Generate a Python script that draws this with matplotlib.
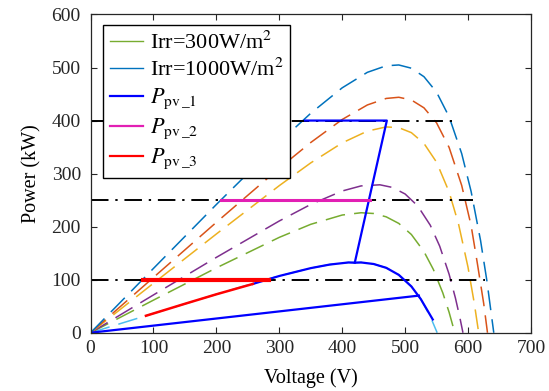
import matplotlib
matplotlib.use("Agg")
import matplotlib.pyplot as plt
from matplotlib.lines import Line2D

plt.rcParams["font.family"] = ["Liberation Serif", "DejaVu Serif"]
plt.rcParams["mathtext.fontset"] = "stix"

# P-V curves (V in volts, P in kW)
curve_colors = ["#4DBEEE", "#77AC30", "#7E2F8E", "#EDB120", "#D95319", "#0072BD"]

v_irr200 = [0, 100, 200, 260, 300, 350, 380, 410, 430, 450, 470, 490, 510, 525, 540, 551]
p_irr200 = [0, 36.4, 72.5, 93.6, 107.0, 121.8, 128.5, 132.5, 132.5, 129.6, 122.4, 109.1, 87.3, 63.4, 30.8, 0]

v_irr300 = [0, 100, 200, 300, 350, 400, 430, 450, 470, 490, 510, 530, 545, 560, 570, 579]
p_irr300 = [0, 61.5, 122.3, 179.8, 204.4, 221.9, 226.2, 224.8, 218.5, 206.1, 185.2, 153.0, 119.2, 75.0, 38.5, 0]

v_irr400 = [0, 100, 200, 300, 350, 400, 430, 460, 480, 500, 520, 540, 555, 570, 580, 587, 592]
p_irr400 = [0, 71.3, 142.1, 210.7, 241.9, 267.2, 276.8, 278.9, 273.9, 261.6, 239.2, 202.8, 163.3, 110.3, 65.6, 29.1, 0]

v_irr600 = [0, 100, 200, 300, 350, 400, 440, 470, 490, 510, 530, 550, 570, 585, 600, 610, 617]
p_irr600 = [0, 93.3, 186.2, 277.3, 320.2, 357.9, 380.1, 388.0, 386.6, 377.2, 356.9, 321.6, 265.4, 204.9, 123.8, 55.7, 0]

v_irr800 = [0, 100, 200, 300, 350, 400, 440, 470, 490, 510, 530, 550, 570, 590, 605, 615, 625, 631]
p_irr800 = [0, 104.3, 208.2, 310.2, 358.6, 402.0, 429.4, 441.7, 443.9, 438.8, 424.0, 395.8, 349.3, 277.7, 201.9, 130.0, 55.0, 0]

v_irr1000 = [0, 100, 200, 300, 350, 400, 440, 470, 490, 510, 530, 550, 570, 590, 605, 620, 630, 641]
p_irr1000 = [0, 121.3, 241.8, 359.1, 413.7, 461.7, 490.9, 503.3, 504.8, 498.7, 482.7, 453.6, 407.1, 337.7, 266.2, 173.8, 98.3, 0]

curves_v = [v_irr200, v_irr300, v_irr400, v_irr600, v_irr800, v_irr1000]
curves_p = [p_irr200, p_irr300, p_irr400, p_irr600, p_irr800, p_irr1000]

# power reference levels (dash-dot) and where they stop
ref_levels = [400, 250, 100]
ref_ends = [574, 608, 627]

# operating trajectories
ppv1_ramp_v = [0, 522]
ppv1_ramp_p = [0, 70]
ppv1_curve_v = [544, 525, 510, 490, 470, 450, 430, 420, 410, 380, 350, 300, 258]
ppv1_curve_p = [25, 63.4, 87.3, 109.1, 122.4, 129.6, 132.5, 132.0, 132.5, 128.5, 121.8, 107.0, 92]
ppv1_step_v = [420, 471, 341]
ppv1_step_p = [132, 400, 400]

ppv2_v = [208, 444]
ppv2_p = [250, 250]

ppv3_slope_v = [88, 150, 200, 258]
ppv3_slope_p = [32, 54.6, 72.5, 92]
ppv3_flat_v = [83, 283]
ppv3_flat_p = [100, 100]

fig = plt.figure(figsize=(5.49, 3.91), dpi=100)
ax = fig.add_axes([0.165, 0.149, 0.802, 0.814])

for v, p, c in zip(curves_v, curves_p, curve_colors):
    ax.plot(v, p, color=c, lw=1.1, dashes=(13, 6))

for lvl, end in zip(ref_levels, ref_ends):
    ax.plot([0, end], [lvl, lvl], color="black", lw=1.4, dashes=(9, 3.5, 1.2, 3.5))

ax.plot(ppv1_ramp_v, ppv1_ramp_p, color="blue", lw=1.6)
ax.plot(ppv1_curve_v, ppv1_curve_p, color="blue", lw=1.6)
ax.plot(ppv1_step_v, ppv1_step_p, color="blue", lw=1.6)
ax.plot(ppv2_v, ppv2_p, color="#E21FB4", lw=2.2)
ax.plot(ppv3_slope_v, ppv3_slope_p, color="red", lw=1.8)
ax.plot(ppv3_flat_v, ppv3_flat_p, color="red", lw=3.0)

ax.set_xlim(0, 700)
ax.set_ylim(0, 600)
ax.set_xticks(range(0, 701, 100))
ax.set_yticks(range(0, 601, 100))
ax.tick_params(direction="in", top=True, right=True, length=4, width=0.8,
               labelsize=14, colors="#262626")
ax.tick_params(axis="x", pad=5)
ax.tick_params(axis="y", pad=7)
for s in ax.spines.values():
    s.set_color("#262626")
    s.set_linewidth(0.9)
ax.set_xlabel("Voltage (V)", fontsize=14.5, labelpad=8)
ax.set_ylabel("Power (kW)", fontsize=14.5, labelpad=7)

handles = [
    Line2D([], [], color="#77AC30", lw=1.0),
    Line2D([], [], color="#0072BD", lw=1.0),
    Line2D([], [], color="blue", lw=1.6),
    Line2D([], [], color="#E21FB4", lw=1.6),
    Line2D([], [], color="red", lw=1.6),
]
labels = [r"Irr=300W/m$^2$", r"Irr=1000W/m$^2$",
          r"$P_{\mathrm{pv\,\_1}}$", r"$P_{\mathrm{pv\,\_2}}$", r"$P_{\mathrm{pv\,\_3}}$"]
leg = ax.legend(handles, labels, loc="upper left", bbox_to_anchor=(0.028, 0.968),
                borderaxespad=0, fontsize=16, frameon=True, fancybox=False,
                framealpha=1, handlelength=1.5, handletextpad=0.3,
                labelspacing=0.25, borderpad=0.3)
leg.get_frame().set_edgecolor("black")
leg.get_frame().set_linewidth(1.0)

fig.savefig("out.png", dpi=100)
